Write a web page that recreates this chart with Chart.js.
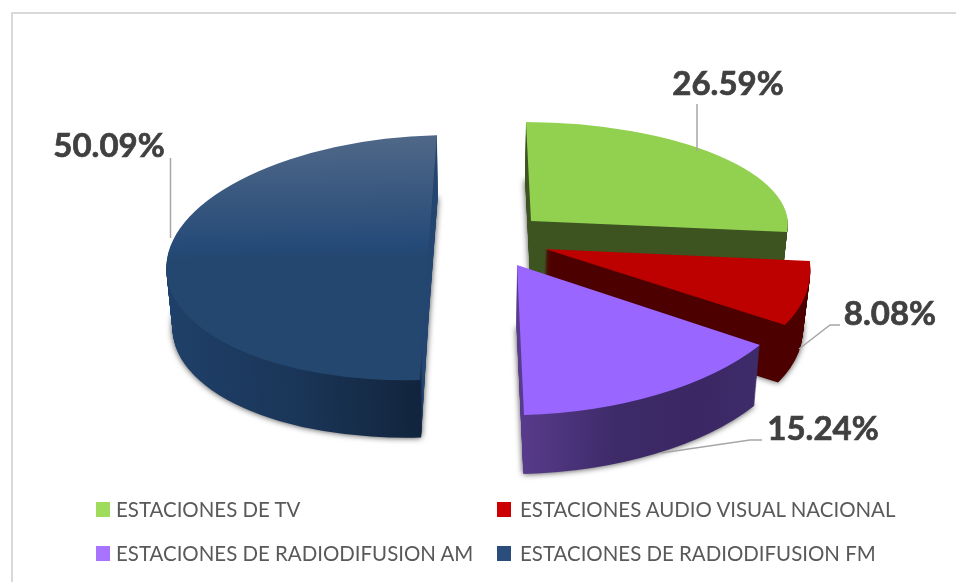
<!DOCTYPE html>
<html>
<head>
<meta charset="utf-8">
<script src="https://cdn.jsdelivr.net/npm/chart.js@4"></script>
<style>
    html, body { margin: 0; background: #fff; }
    #wrap { position: relative; width: 956px; height: 582px; overflow: hidden; }
    #frame { position: absolute; left: 11px; top: 12px; width: 960px; height: 600px; border: 2px solid #d9d9d9; }
    canvas { position: absolute; left: 0; top: 0; }
    .legend-item { position: absolute; height: 20px; font: 20.45px Lato, sans-serif; color: #595959; white-space: nowrap; }
    .legend-item i { position: absolute; left: 0; top: 3px; width: 14px; height: 15px; }
    .legend-item span { position: absolute; left: 20px; top: 0; line-height: 20px; }
</style>
</head>
<body>
<div id="wrap">
    <div id="frame"></div>
    <canvas id="pieChart" width="956" height="582"></canvas>
    <div id="legend"></div>
</div>
<script>
const categories = ['ESTACIONES DE TV', 'ESTACIONES AUDIO VISUAL NACIONAL', 'ESTACIONES DE RADIODIFUSION AM', 'ESTACIONES DE RADIODIFUSION FM'];
const shares = [26.59, 8.08, 15.24, 50.09];
const topColors = ['#92d050', '#bd0000', '#9966ff', '#24476f'];
const legendColors = ['#a0dc5c', '#cc0000', '#a874ff', '#2a4d7c'];

// fake 3D: every slice gets its own projection of the unit circle
const projection = [
    { x: 531, y: 221, a: 256.8, b: 3.7, c: -1.7, d: 98.9, dx: -1, dy: 56 },
    { x: 545, y: 249, a: 262.9, b: 2.05, c: 36.8, d: 135.3, dx: -2, dy: 59 },
    { x: 517, y: 265, a: 292.3, b: -3, c: -2.3, d: 150.2, dx: -0.5, dy: 62 },
    { x: 427.7, y: 257.6, a: 261, b: -3, c: -16.1, d: 122.6, dx: 1, dy: 60 }
];
const sideStops = [
    [[526, '#3d5320'], [790, '#3d5320']],
    [[545, '#4d0000'], [810, '#4d0000']],
    [[522, '#583b8c'], [620, '#3d2a68'], [700, '#3a2763'], [760, '#3e2b6a']],
    [[165, '#1f4069'], [300, '#1a3557'], [420, '#12243d'], [422, '#234570'], [442, '#234570']]
];
const depthShrink = 0.02;

const labelSpots = [[728, 84], [890, 314], [823, 429], [109, 146]];
const leaderLines = [
    [[697, 104], [697, 151]],
    [[840, 325], [830, 325], [799, 349]],
    [[762, 440], [750, 440], [661, 453]],
    [[170.5, 158], [170.5, 238]]
];
const legendSpots = [[96, 499], [497, 499], [96, 543], [497, 543]];

function drawArc(ctx, arc, p, depth, fill, shadow) {
    const R = arc.outerRadius;
    const k = 1 - depthShrink * depth;
    const saved = arc.options;
    ctx.save();
    ctx.translate(p.x + p.dx * depth, p.y + p.dy * depth);
    ctx.transform(p.a * k / R, p.b * k / R, p.c * k / R, p.d * k / R, 0, 0);
    ctx.translate(-arc.x, -arc.y);
    if (shadow) {
        ctx.shadowColor = 'rgba(0,0,0,0.75)';
        ctx.shadowBlur = 6;
    }
    arc.options = Object.assign({}, saved, { backgroundColor: fill, borderWidth: 0 });
    arc.draw(ctx);
    arc.options = saved;
    ctx.restore();
}

// gradient runs along screen x, so its axis has to be undone through the projection
function sideFill(ctx, arc, p, stops) {
    const R = arc.outerRadius;
    const first = stops[0][0];
    const last = stops[stops.length - 1][0];
    const norm = p.a * p.a + p.c * p.c;
    const at = sx => {
        const f = (sx - p.x) * R / norm;
        return [arc.x + p.a * f, arc.y + p.c * f];
    };
    const from = at(first);
    const to = at(last);
    const grad = ctx.createLinearGradient(from[0], from[1], to[0], to[1]);
    stops.forEach(s => grad.addColorStop((s[0] - first) / (last - first), s[1]));
    return grad;
}

const slices3d = {
    id: 'slices3d',
    beforeDatasetsDraw(chart) {
        const ctx = chart.ctx;
        chart.getDatasetMeta(0).data.forEach((arc, i) => {
            const p = projection[i];
            const side = sideFill(ctx, arc, p, sideStops[i]);
            const steps = Math.ceil(p.dy);
            for (let s = steps; s > 0; s--) {
                drawArc(ctx, arc, p, s / steps, side, s === steps);
            }
            let top = topColors[i];
            if (i === 3) {
                // the big slice catches some light on its far edge
                top = ctx.createLinearGradient(0, arc.y - arc.outerRadius, 0, arc.y);
                top.addColorStop(0, '#506888');
                top.addColorStop(0.9, '#254a78');
                top.addColorStop(1, '#24476f');
            }
            drawArc(ctx, arc, p, 0, top, false);
        });
        return false;
    },
    afterDraw(chart) {
        const ctx = chart.ctx;
        ctx.save();
        ctx.strokeStyle = '#a6a6a6';
        ctx.lineWidth = 1.5;
        leaderLines.forEach(line => {
            ctx.beginPath();
            line.forEach((pt, i) => i ? ctx.lineTo(pt[0], pt[1]) : ctx.moveTo(pt[0], pt[1]));
            ctx.stroke();
        });
        ctx.fillStyle = '#404040';
        ctx.strokeStyle = '#404040';
        ctx.lineWidth = 0.7;
        ctx.font = 'bold 33px Lato, sans-serif';
        ctx.textAlign = 'center';
        ctx.textBaseline = 'middle';
        shares.forEach((v, i) => {
            const text = v.toFixed(2) + '%';
            ctx.fillText(text, labelSpots[i][0], labelSpots[i][1]);
            ctx.strokeText(text, labelSpots[i][0], labelSpots[i][1]);
        });
        ctx.restore();
    }
};

const chart = new Chart(document.getElementById('pieChart').getContext('2d'), {
    type: 'pie',
    data: {
        labels: categories,
        datasets: [{ data: shares, backgroundColor: topColors, borderWidth: 0 }]
    },
    options: {
        responsive: false,
        animation: false,
        rotation: -1.5,
        plugins: { legend: { display: false }, tooltip: { enabled: false } }
    },
    plugins: [slices3d]
});

// legend sits in two fixed columns, the built-in one can't do that
const legendBox = document.getElementById('legend');
categories.forEach((name, i) => {
    const item = document.createElement('div');
    item.className = 'legend-item';
    item.style.left = legendSpots[i][0] + 'px';
    item.style.top = legendSpots[i][1] + 'px';
    item.innerHTML = '<i style="background:' + legendColors[i] + '"></i><span style="left:' + (i % 2 ? 23 : 20) + 'px">' + name + '</span>';
    legendBox.appendChild(item);
});
</script>
</body>
</html>
